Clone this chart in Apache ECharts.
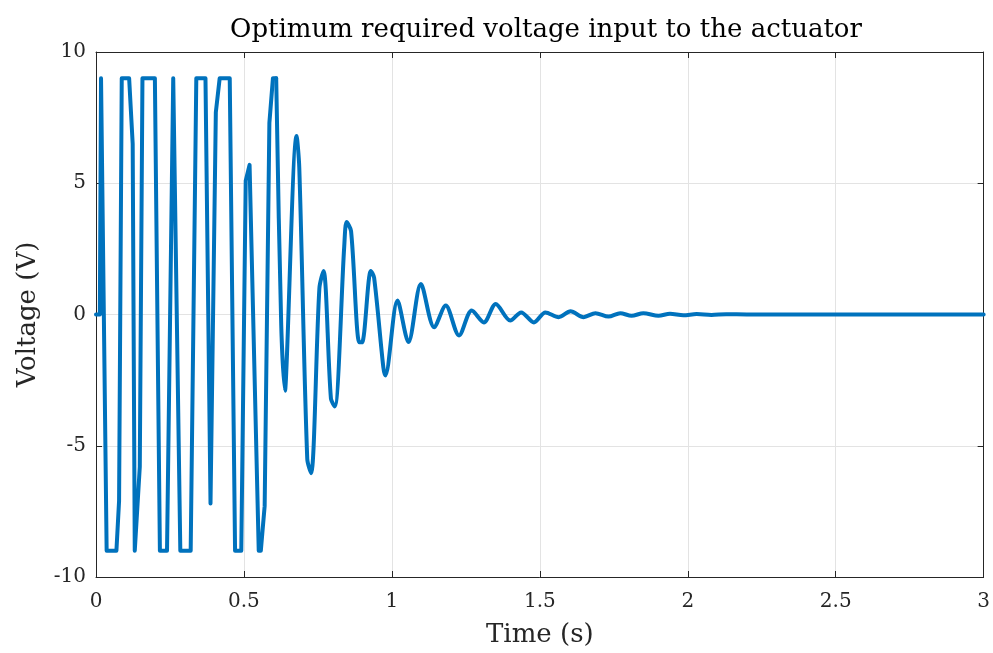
<!DOCTYPE html>
<html>
<head>
<meta charset="utf-8">
<script src="https://cdn.jsdelivr.net/npm/echarts@6/dist/echarts.min.js"></script>
<style>
    html, body { margin: 0; padding: 0; background: #fff; }
    #chart { width: 993px; height: 653px; }
</style>
</head>
<body>
<div id="chart"></div>
<script>
// time (s) and voltage (V) at the corners / peaks of the trace
let time_s = [
    0, 0.013, 0.017, 0.036, 0.069, 0.078, 0.087, 0.112, 0.124, 0.131,
    0.136, 0.148, 0.157, 0.199, 0.216, 0.240, 0.261, 0.264, 0.285, 0.320,
    0.339, 0.370, 0.387, 0.405, 0.418, 0.452, 0.470, 0.491, 0.506, 0.519,
    0.550, 0.557, 0.570, 0.586, 0.598, 0.609, 0.626, 0.639, 0.643, 0.678,
    0.687, 0.714, 0.727, 0.755, 0.769, 0.794, 0.807, 0.839, 0.847, 0.862,
    0.890, 0.899, 0.929, 0.940, 0.971, 0.978, 1.019, 1.056, 1.098, 1.143,
    1.182, 1.227, 1.270, 1.311, 1.351, 1.400, 1.437, 1.480, 1.519, 1.564,
    1.604, 1.648, 1.688, 1.732, 1.772, 1.810, 1.850, 1.901, 1.940, 1.985,
    2.030, 2.080, 2.130, 2.200, 3.000
]
let volt = [
    0, 0, 9, -9, -9, -7.1, 9, 9, 6.5, -9,
    -9, -5.8, 9, 9, -9, -9, 9, 9, -9, -9,
    9, 9, -7.2, 7.7, 9, 9, -9, -9, 5.1, 5.7,
    -9, -9, -7.3, 7.3, 9, 9, -0.4, -2.9, -2.2, 6.8,
    5.6, -5.5, -6.05, 1.0, 1.66, -3.2, -3.5, 2.6, 3.52, 3.18,
    -1.06, -1.06, 1.66, 1.4, -2.0, -2.32, 0.53, -1.05, 1.16, -0.49,
    0.34, -0.8, 0.15, -0.3, 0.4, -0.23, 0.08, -0.3, 0.08, -0.1,
    0.12, -0.1, 0.05, -0.08, 0.05, -0.05, 0.05, -0.05, 0.03, -0.03,
    0.015, -0.015, 0.01, 0, 0
]

let x_ticks = { min: 0, max: 3, step: 0.5 }
let y_ticks = { min: -10, max: 10, step: 5 }

// saturated part drawn straight, the decaying ringing drawn smooth
let split_t = 0.609
let trace_sat = []
let trace_ring = []
for (let i = 0; i < time_s.length; i++) {
    if (time_s[i] <= split_t) trace_sat.push([time_s[i], volt[i]])
    if (time_s[i] >= split_t) trace_ring.push([time_s[i], volt[i]])
}

const serif = 'DejaVu Serif'
const frame = '#262626'
const blue = '#0072BD'

function frame_axis(pos, ticks, show_grid, show_label) {
    return {
        type: 'value',
        position: pos,
        min: ticks.min,
        max: ticks.max,
        interval: ticks.step,
        axisLine: { show: true, onZero: false, lineStyle: { color: frame, width: 1 } },
        axisTick: { show: true, inside: true, length: 6, lineStyle: { color: frame } },
        axisLabel: {
            show: show_label,
            color: '#262626',
            fontFamily: serif,
            fontSize: 20
        },
        splitLine: { show: show_grid, lineStyle: { color: '#e3e3e3', width: 1 } }
    }
}

let x_bottom = frame_axis('bottom', x_ticks, true, true)
x_bottom.name = 'Time (s)'
x_bottom.nameLocation = 'middle'
x_bottom.nameGap = 45
x_bottom.nameTextStyle = { fontFamily: serif, fontSize: 26, color: '#262626' }
x_bottom.axisLabel.margin = 15

let y_left = frame_axis('left', y_ticks, true, true)
y_left.name = 'Voltage (V)'
y_left.nameLocation = 'middle'
y_left.nameGap = 55
y_left.nameTextStyle = { fontFamily: serif, fontSize: 26, color: '#262626' }
y_left.axisLabel.margin = 10

let line_style = { color: blue, width: 4, join: 'round', cap: 'round' }

let option = {
    animation: false,
    backgroundColor: '#fff',
    title: {
        text: 'Optimum required voltage input to the actuator',
        left: 541,
        top: 12,
        textAlign: 'center',
        textStyle: { fontFamily: serif, fontSize: 26, fontWeight: 'normal', color: '#000' }
    },
    grid: { left: 96, right: 7, top: 52, bottom: 73 },
    xAxis: [x_bottom, frame_axis('top', x_ticks, false, false)],
    yAxis: [y_left, frame_axis('right', y_ticks, false, false)],
    series: [
        {
            name: 'Voltage',
            type: 'line',
            data: trace_sat,
            showSymbol: false,
            lineStyle: line_style,
            itemStyle: { color: blue }
        },
        {
            name: 'Voltage ringing',
            type: 'line',
            data: trace_ring,
            smooth: 0.3,
            showSymbol: false,
            lineStyle: line_style,
            itemStyle: { color: blue }
        }
    ]
}

const dom = document.getElementById('chart')
const myChart = echarts.init(dom, null, { renderer: 'canvas' })
myChart.setOption(option, true)
</script>
</body>
</html>
